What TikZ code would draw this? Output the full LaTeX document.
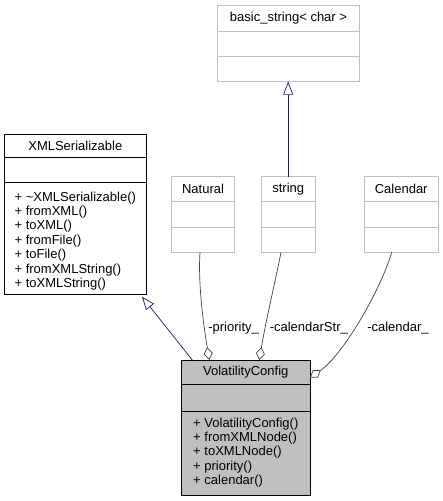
\documentclass[tikz,border=0pt]{standalone}
\usepackage{fontspec}
\setmainfont{Liberation Sans}
\usetikzlibrary{arrows.meta,calc}
\definecolor{edgeblue}{RGB}{25,25,112}
\definecolor{edgegray}{RGB}{64,64,64}
\definecolor{boxgray}{RGB}{191,191,191}
\definecolor{linegray}{RGB}{191,191,191}
\begin{document}
\begin{tikzpicture}[x=1pt,y=-1pt,font=\fontsize{13}{14.4}\selectfont,
    classbox/.style={anchor=north west,inner sep=0pt,outer sep=0pt,line width=0.7pt},
    hiddenbox/.style={classbox,draw=linegray},
    knownbox/.style={classbox,draw=black},
    currentbox/.style={classbox,draw=black,fill=boxgray,line width=0.9pt},
    classtitle/.style={inner sep=0pt,anchor=center},
    members/.style={inner sep=0pt,anchor=center,align=left},
    inherit/.style={draw=edgeblue,line width=0.7pt,-{Triangle[open,length=13pt,width=10pt]}},
    aggr/.style={draw=edgegray,line width=0.7pt,{Diamond[fill=white,length=13pt,width=9pt]}-},
    role/.style={inner sep=0pt,anchor=center}]
    \useasboundingbox (0,0) rectangle (443,501);
    % basic_string< char >
    \node[hiddenbox,minimum width=141.6pt,minimum height=76.7pt] (bstr) at (217.7,5) {};
    \draw[linegray,line width=0.7pt] (217.7,31.7) -- ++(141.6,0) (217.7,56.7) -- ++(141.6,0);
    \node[classtitle] (bstr-t) at (288.5,18.5) {basic\_string< char >};
    % Natural
    \node[hiddenbox,minimum width=62.6pt,minimum height=75.6pt] (nat) at (171.7,176.7) {};
    \draw[linegray,line width=0.7pt] (171.7,201.3) -- ++(62.6,0) (171.7,227.7) -- ++(62.6,0);
    \node[classtitle] (nat-t) at (203,189) {Natural};
    % string
    \node[hiddenbox,minimum width=54.3pt,minimum height=75.6pt] (str) at (261,176.7) {};
    \draw[linegray,line width=0.7pt] (261,201.3) -- ++(54.3,0) (261,227.7) -- ++(54.3,0);
    \node[classtitle] (str-t) at (288.2,189) {string};
    % Calendar
    \node[hiddenbox,minimum width=73.7pt,minimum height=75.6pt] (cal) at (364.3,176.7) {};
    \draw[linegray,line width=0.7pt] (364.3,201.3) -- ++(73.7,0) (364.3,227.7) -- ++(73.7,0);
    \node[classtitle] (cal-t) at (401.2,189) {Calendar};
    % XMLSerializable
    \node[knownbox,minimum width=142.7pt,minimum height=160.3pt] (xmlser) at (4,134) {};
    \draw[black,line width=0.7pt] (4,157.7) -- ++(142.7,0) (4,182.3) -- ++(142.7,0);
    \node[classtitle] (xmlser-t) at (75.3,146) {XMLSerializable};
    \node[members] (xmlser-m) at (75.3,241) {+ \textasciitilde XMLSerializable()\\+ fromXML()\\+ toXML()\\+ fromFile()\\+ toFile()\\+ fromXMLString()\\+ toXMLString()};
    % VolatilityConfig
    \node[currentbox,minimum width=128.3pt,minimum height=135.7pt] (vconf) at (181.7,360) {};
    \draw[black,line width=0.9pt] (181.7,384.3) -- ++(128.3,0) (181.7,411) -- ++(128.3,0);
    \node[classtitle] (vconf-t) at (245.8,372.2) {VolatilityConfig};
    \node[members] (vconf-m) at (245.8,452.5) {+ VolatilityConfig()\\+ fromXMLNode()\\+ toXMLNode()\\+ priority()\\+ calendar()};
    % inheritance
    \draw[inherit] (str.north) -- (str.north |- bstr.south);
    \draw[inherit] ($(vconf.north west)+(10.6,0)$) -- ($(xmlser.south east)+(-4.7,2.4)$);
    % members
    \draw[aggr] ($(vconf.north west)+(27.6,0)$) .. controls (203,322) and (198,282) .. ($(nat.south west)+(28.3,0)$);
    \draw[aggr] ($(vconf.north west)+(77.6,0)$) .. controls (266,320) and (276,278) .. ($(str.south west)+(20,0)$);
    \draw[aggr] ($(vconf.north east)+(0,17.5)$) .. controls (342,356) and (380,292) .. ($(cal.south west)+(27.4,0)$);
    \node[role] (prio-l) at (233.6,328) {-priority\_};
    \node[role] (calstr-l) at (308.8,328) {-calendarStr\_};
    \node[role] (cal-l) at (398,328) {-calendar\_};
\end{tikzpicture}
\end{document}
